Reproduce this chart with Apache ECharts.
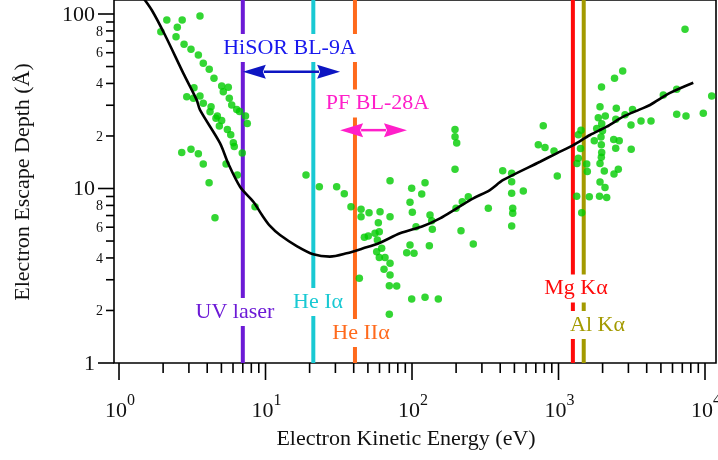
<!DOCTYPE html>
<html>
<head>
<meta charset="utf-8">
<script src="https://cdn.jsdelivr.net/npm/echarts@6/dist/echarts.min.js"></script>
<style>
  html, body { margin: 0; padding: 0; background: #fff; }
  #chart { width: 718px; height: 460px; }
</style>
</head>
<body>
<div id="chart"></div>
<script>
// Universal curve of the electron inelastic mean free path (eV, Å)
const curveEnergy = [1.40, 1.672, 2.06, 2.75, 3.39, 3.57, 4.89, 5.57, 6.70, 8.26, 9.46, 10.73, 12.56, 16.33, 21.2, 27.5,
  35.8, 46.5, 60.5, 82.8, 119.4, 155.3, 201.9, 262, 340, 420, 748, 972, 1262, 1641, 2134, 2768, 3598, 4214, 5771, 8318];
const curveDepth = [130, 105.4, 75.8, 45.7, 32.2, 28.2, 18.2, 13.9, 10.24, 8.40, 7.05, 6.10, 5.41, 4.68, 4.20, 4.07,
  4.25, 4.54, 4.89, 5.54, 6.10, 6.75, 7.70, 8.79, 9.80, 11.19, 14.24, 15.91, 17.75, 20.26, 22.6, 25.8, 28.4, 30.1, 35.3, 40.4];

// Measured escape depths (eV, Å)
const pointEnergy = [
  1.93, 2.12, 2.50, 2.70, 3.57, 2.45, 2.78, 3.10, 3.48, 3.76, 4.13, 4.45, 5.02, 5.57, 5.15, 3.25, 2.90, 3.22, 3.57, 3.76,
  5.66, 5.88, 6.36, 6.65, 4.25, 4.18, 4.69, 4.59, 5.02, 4.84, 5.49, 5.79, 6.03, 6.12, 6.94, 7.30, 7.51, 2.68, 3.10, 3.48,
  3.76, 5.38, 6.42, 4.12, 4.52, 8.48,
  18.9, 23.3, 30.6, 34.5, 38.3, 44.9, 44.9, 50.9, 60.5, 58.9, 70.8, 70.8, 47.3, 50.3, 55.9, 59.8, 58.0, 62.1, 57.4, 59.8,
  65.4, 70.8, 64.4, 70.8, 70.0, 78.6, 43.7, 70.0, 99.5, 122.7, 116.5, 96.9, 100.5, 132.7, 136.3, 137.6, 106.5, 92.0, 103.2,
  96.9, 131.3, 99.5, 122.7, 151.2, 196.6, 196.6, 201.9, 196.6, 242.3, 220.4, 199.7, 331.8, 216.0, 262.0,
  416, 479, 479, 479, 575, 487, 487, 479, 787, 728, 809, 932, 981, 1365, 1424, 1413, 1365, 1337, 1558, 1573,
  1331, 1623, 1905, 2133, 1440, 2077, 1920, 7304, 2743, 2412, 1966, 5193, 6411, 11110, 1920, 2480, 3200, 1869, 2087, 2461,
  2844, 3658, 4279, 6411, 7419, 9736, 3125, 1972, 1823, 1997, 1950, 1755, 2381, 2597, 2457, 3135, 1960, 1972, 1960, 1920,
  2054, 2560, 2392
];
const pointDepth = [
  79.2, 92.4, 83.9, 92.4, 97.4, 74.1, 67.1, 62.8, 58.2, 52.2, 48.2, 42.8, 38.7, 38.0, 35.9, 37.8, 33.6, 32.9, 33.9, 30.8,
  32.9, 30.1, 28.4, 27.6, 29.4, 27.5, 26.0, 25.3, 24.5, 22.8, 21.8, 20.3, 18.3, 17.4, 16.0, 26.0, 23.6, 16.1, 16.8, 15.8,
  13.8, 13.8, 11.95, 10.8, 6.80, 7.87,
  11.95, 10.24, 10.24, 9.34, 7.87, 7.60, 6.89, 7.27, 7.36, 6.37, 11.08, 6.89, 5.25, 5.34, 5.54, 5.65, 5.07, 4.54, 4.34, 4.03,
  4.03, 3.73, 3.44, 3.19, 2.77, 2.76, 3.06, 1.90, 10.03, 10.8, 9.30, 8.33, 7.30, 7.05, 6.54, 5.84, 6.04, 4.29, 4.25,
  4.75, 4.70, 2.33, 2.38, 2.33, 21.8, 19.8, 18.2, 12.9, 8.98, 8.40, 7.70, 7.70, 5.73, 4.81,
  12.65, 12.22, 10.94, 9.39, 9.68, 7.70, 7.21, 6.10, 22.9, 17.8, 17.2, 16.4, 11.8, 20.3, 21.6, 16.96, 14.9, 13.9, 13.8, 12.5,
  9.02, 8.98, 9.02, 8.88, 7.27, 10.13, 10.9, 81.7, 47.1, 42.8, 38.2, 34.3, 37.0, 33.9, 29.4, 28.8, 28.4, 25.4, 26.0, 24.9,
  26.5, 24.4, 24.4, 26.6, 26.0, 27.0, 23.1, 23.5, 22.1, 21.4, 19.7, 18.8, 19.1, 18.8, 17.0, 16.8, 17.8, 16.1, 15.1, 13.9,
  12.6, 12.9, 12.1
];

// Excitation sources (photon energy, eV)
const sourceNames = ['UV laser', 'He Iα', 'He IIα', 'Mg Kα', 'Al Kα'];
const sourceEnergy = [7.0, 21.2, 40.8, 1253.6, 1486.6];

// Beamline energy ranges (eV)
const beamlineNames = ['HiSOR BL-9A', 'PF BL-28A'];
const hisorRange = [7.0, 32.3];
const pfRange = [32.3, 92.4];

// Axis ticks
const xMajorTicks = [1, 10, 100, 1000, 10000];
const xMajorExponents = ['0', '1', '2', '3', '4'];
const xMinorTicks = [2, 3, 4, 5, 6, 7, 8, 9, 20, 30, 40, 50, 60, 70, 80, 90, 200, 300, 400, 500, 600, 700, 800, 900,
  2000, 3000, 4000, 5000, 6000, 7000, 8000, 9000];
const yMajorTicks = [1, 10, 100];
const yMajorLabels = ['1', '10', '100'];
const yMinorTicks = [2, 3, 4, 5, 6, 7, 8, 9, 20, 30, 40, 50, 60, 70, 80, 90];
const yMinorLabels = ['2', '', '4', '', '6', '', '8', '', '2', '', '4', '', '6', '', '8', ''];

const X_MIN = 0.9243, X_MAX = 11887, Y_MIN = 1, Y_MAX = 120.3;
const SERIF = "'Liberation Serif', 'Times New Roman', serif";
const TICK_COLOR = '#000';
const LABEL_COLOR = '#111';

const sourceColors = ['#6c1ad6', '#19c9d3', '#ff6a1c', '#ff0a0a', '#a39a00'];
const arrowStyle = [
  { level: 46.7, color: '#0d15c2' },
  { level: 21.6, color: '#ff1fc9' }
];

const chart = echarts.init(document.getElementById('chart'), null, { renderer: 'canvas' });

function xTicksItem(params, api) {
  const cs = params.coordSys;
  const v = api.value(0);
  const x = api.coord([v, Y_MIN])[0];
  const y0 = cs.y + cs.height;
  const idx = xMajorTicks.indexOf(v);
  const children = [{
    type: 'line',
    shape: { x1: x, y1: y0, x2: x, y2: y0 + (idx >= 0 ? 17 : 10) },
    style: { stroke: TICK_COLOR, lineWidth: 1.6 }
  }];
  if (idx >= 0) {
    children.push({
      type: 'text', x: x + 8, y: y0 + 48,
      style: { text: '10', font: `22px ${SERIF}`, fill: LABEL_COLOR, align: 'right', verticalAlign: 'middle' }
    });
    children.push({
      type: 'text', x: x + 8, y: y0 + 38,
      style: { text: xMajorExponents[idx], font: `16px ${SERIF}`, fill: LABEL_COLOR, align: 'left', verticalAlign: 'middle' }
    });
  }
  return { type: 'group', children };
}

function yTicksItem(params, api) {
  const cs = params.coordSys;
  const v = api.value(1);
  const y = api.coord([X_MIN, v])[1];
  const x0 = cs.x;
  const majorIdx = yMajorTicks.indexOf(v);
  const minorIdx = yMinorTicks.indexOf(v);
  const major = majorIdx >= 0;
  const children = [{
    type: 'line',
    shape: { x1: x0 - (major ? 16 : 8), y1: y, x2: x0, y2: y },
    style: { stroke: TICK_COLOR, lineWidth: 1.6 }
  }];
  const text = major ? yMajorLabels[majorIdx] : yMinorLabels[minorIdx];
  if (text) {
    children.push({
      type: 'text', x: x0 - (major ? 19 : 11), y: y + 1,
      style: { text, font: `${major ? 22 : 14}px ${SERIF}`, fill: LABEL_COLOR, align: 'right', verticalAlign: 'middle' }
    });
  }
  return { type: 'group', children };
}

function arrowItem(params, api) {
  const i = params.dataIndex;
  const lvl = api.value(1);
  const p1 = api.coord([api.value(0), lvl]);
  const p2 = api.coord([api.value(2), lvl]);
  const color = arrowStyle[i].color;
  const head = 23, half = 7;
  return {
    type: 'group',
    children: [
      { type: 'line', shape: { x1: p1[0] + head - 2, y1: p1[1], x2: p2[0] - head + 2, y2: p2[1] },
        style: { stroke: color, lineWidth: 2.5 } },
      { type: 'polygon', shape: { points: [[p1[0], p1[1]], [p1[0] + head, p1[1] - half], [p1[0] + head - 3, p1[1]], [p1[0] + head, p1[1] + half]] },
        style: { fill: color } },
      { type: 'polygon', shape: { points: [[p2[0], p2[1]], [p2[0] - head, p2[1] - half], [p2[0] - head + 3, p2[1]], [p2[0] - head, p2[1] + half]] },
        style: { fill: color } }
    ]
  };
}

function boxedLabel(text, cx, cy, color) {
  return {
    type: 'text', x: cx, y: cy, z: 100,
    style: {
      text, fill: color, font: `22px ${SERIF}`, align: 'center', verticalAlign: 'middle',
      backgroundColor: '#fff', padding: [3, 3]
    }
  };
}

const series = [];

// Vertical lines marking each excitation source
sourceEnergy.forEach((e, i) => {
  series.push({
    type: 'line', name: sourceNames[i], z: 1, silent: true, symbol: 'none',
    data: [[e, Y_MIN], [e, Y_MAX]],
    lineStyle: { color: sourceColors[i], width: 4 }
  });
});

series.push({
  type: 'scatter', name: 'data', z: 3, silent: true,
  symbol: 'circle', symbolSize: 7.5,
  itemStyle: { color: '#00cc00' },
  data: pointEnergy.map((e, i) => [e, pointDepth[i]])
});

series.push({
  type: 'line', name: 'universal curve', z: 4, silent: true, symbol: 'none', smooth: 0.3,
  data: curveEnergy.map((e, i) => [e, curveDepth[i]]),
  lineStyle: { color: '#000', width: 2.6 }
});

series.push({
  type: 'custom', name: 'beamlines', z: 6, silent: true, clip: false,
  renderItem: arrowItem,
  data: [[hisorRange[0], arrowStyle[0].level, hisorRange[1]], [pfRange[0], arrowStyle[1].level, pfRange[1]]],
  encode: { x: [0, 2], y: 1 }
});

series.push({
  type: 'custom', name: 'xticks', z: 7, silent: true, clip: false,
  renderItem: xTicksItem,
  data: xMajorTicks.concat(xMinorTicks).map(v => [v, Y_MIN]),
  encode: { x: 0, y: 1 }
});

series.push({
  type: 'custom', name: 'yticks', z: 7, silent: true, clip: false,
  renderItem: yTicksItem,
  data: yMajorTicks.concat(yMinorTicks).map(v => [X_MIN, v]),
  encode: { x: 0, y: 1 }
});

chart.setOption({
  animation: false,
  backgroundColor: '#fff',
  grid: {
    left: 114, right: 2, top: 0, bottom: 97,
    show: true, borderColor: '#000', borderWidth: 1.6,
    outerBoundsMode: 'none', containLabel: false
  },
  xAxis: {
    type: 'log', logBase: 10, min: X_MIN, max: X_MAX,
    axisLine: { show: false }, axisTick: { show: false }, axisLabel: { show: false }, splitLine: { show: false }
  },
  yAxis: {
    type: 'log', logBase: 10, min: Y_MIN, max: Y_MAX,
    axisLine: { show: false }, axisTick: { show: false }, axisLabel: { show: false }, splitLine: { show: false }
  },
  graphic: [
    boxedLabel(beamlineNames[0], 289.5, 48, '#1818ee'),
    boxedLabel(beamlineNames[1], 377.5, 103.5, '#ff1fc9'),
    boxedLabel(sourceNames[0], 235, 312, sourceColors[0]),
    boxedLabel(sourceNames[1], 318, 302, sourceColors[1]),
    boxedLabel(sourceNames[2], 361, 333, sourceColors[2]),
    boxedLabel(sourceNames[3], 576, 288.5, sourceColors[3]),
    boxedLabel(sourceNames[4], 597.5, 325, sourceColors[4]),
    {
      type: 'text', x: 406, y: 439, z: 100,
      style: { text: 'Electron Kinetic Energy (eV)', font: `22px ${SERIF}`, fill: LABEL_COLOR, align: 'center', verticalAlign: 'middle' }
    },
    {
      type: 'text', x: 23, y: 182, z: 100, rotation: Math.PI / 2,
      style: { text: 'Electron Escape Depth (Å)', font: `22px ${SERIF}`, fill: LABEL_COLOR, align: 'center', verticalAlign: 'middle' }
    }
  ],
  series
});
</script>
</body>
</html>
